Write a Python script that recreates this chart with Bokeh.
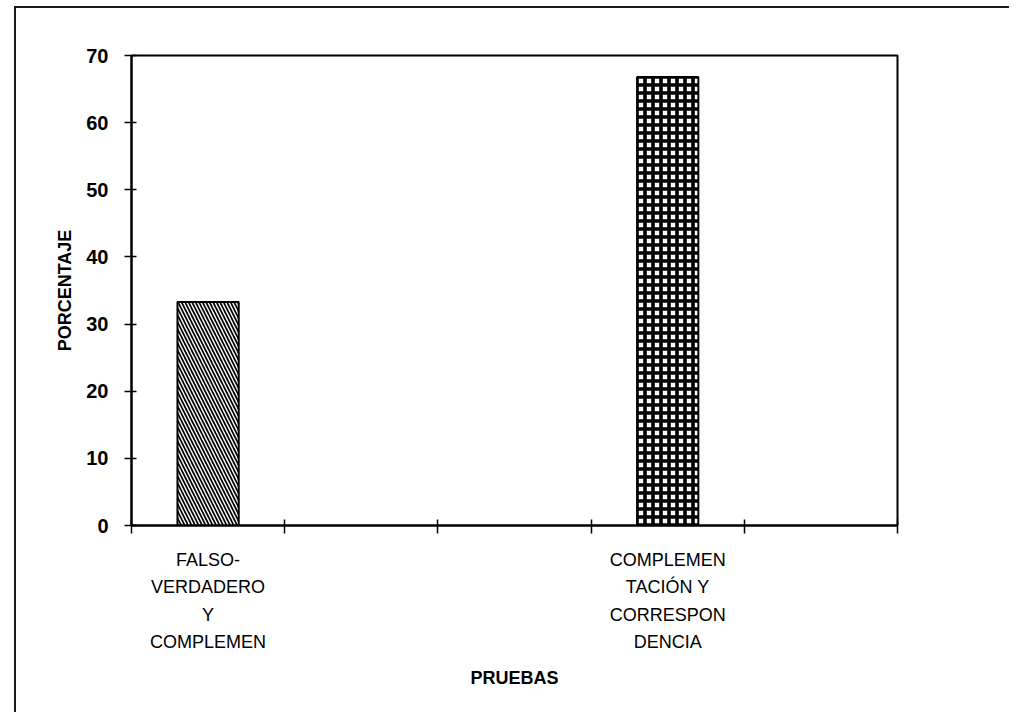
from bokeh.plotting import figure
from bokeh.models import Range1d, FixedTicker, ColumnDataSource
from bokeh.embed import file_html
from bokeh.resources import INLINE

# ---- data ----
categories = ["FALSO-\nVERDADERO\nY\nCOMPLEMEN", "", "", "COMPLEMEN\nTACIÓN Y\nCORRESPON\nDENCIA", ""]
values = [33.3, None, None, 66.8, None]
hatches = ["left_diagonal_line", None, None, "cross", None]
y_ticks = [0, 10, 20, 30, 40, 50, 60, 70]
x_title = "PRUEBAS"
y_title = "PORCENTAJE"

FONT = "Liberation Sans"

n = len(categories)
xs, tops, hs = [], [], []
for i, (c, v, h) in enumerate(zip(categories, values, hatches)):
    if v is not None:
        xs.append(i + 0.5)
        tops.append(v)
        hs.append(h)

p = figure(width=1009, height=712, output_backend="svg", toolbar_location=None,
           x_range=Range1d(0, n), y_range=Range1d(0, 70),
           min_border_left=131, min_border_right=112, min_border_top=55, min_border_bottom=187)
p.border_fill_color = None
p.background_fill_color = "white"
p.styles = {
    "background": "linear-gradient(#1a1a1a,#1a1a1a) 14px 6px / 2px 100% no-repeat, "
                  "linear-gradient(#1a1a1a,#1a1a1a) 14px 6px / 100% 2px no-repeat, white"
}

p.grid.visible = False
p.outline_line_color = "black"
p.outline_line_width = 2
p.outline_line_alpha = 1.0

for h, x, t in zip(hs, xs, tops):
    src = ColumnDataSource(dict(x=[x], top=[t]))
    if h == "cross":
        p.vbar(x="x", top="top", bottom=0, width=0.4, source=src,
               fill_color="white", line_color="black", line_width=2,
               hatch_pattern=h, hatch_color="black", hatch_scale=8, hatch_weight=3.6)
    else:
        p.vbar(x="x", top="top", bottom=0, width=0.4, source=src,
               fill_color="white", line_color="black", line_width=2,
               hatch_pattern=h, hatch_color="black", hatch_scale=7, hatch_weight=1.7)

# x axis
xa = p.xaxis[0]
xa.ticker = FixedTicker(ticks=[i + 0.5 for i in range(n) if categories[i]],
                        minor_ticks=list(range(n + 1)))
xa.major_label_overrides = {i + 0.5: categories[i] for i in range(n) if categories[i]}
xa.major_tick_in = 0
xa.major_tick_out = 0
xa.minor_tick_in = 6
xa.minor_tick_out = 8
xa.minor_tick_line_width = 1.5
xa.minor_tick_line_color = "black"
xa.axis_line_width = 2
xa.axis_line_color = "black"
xa.major_label_text_font = FONT
xa.major_label_text_font_size = "18px"
xa.major_label_text_color = "black"
xa.major_label_text_line_height = 1.38
xa.major_label_standoff = 16
xa.axis_label = x_title
xa.axis_label_text_font = FONT
xa.axis_label_text_font_size = "18px"
xa.axis_label_text_font_style = "bold"
xa.axis_label_text_color = "black"
xa.axis_label_standoff = 13

# y axis
ya = p.yaxis[0]
ya.ticker = FixedTicker(ticks=y_ticks)
ya.major_tick_in = 5
ya.major_tick_out = 7
ya.major_tick_line_width = 1.5
ya.major_tick_line_color = "black"
ya.minor_tick_line_color = None
ya.axis_line_width = 2
ya.axis_line_color = "black"
ya.major_label_text_font = FONT
ya.major_label_text_font_size = "20px"
ya.major_label_text_font_style = "bold"
ya.major_label_text_color = "black"
ya.major_label_standoff = 16
ya.axis_label = y_title
ya.axis_label_text_font = FONT
ya.axis_label_text_font_size = "18px"
ya.axis_label_text_font_style = "bold"
ya.axis_label_text_color = "black"
ya.axis_label_standoff = 8

open("out.html", "w").write(file_html(p, INLINE))
